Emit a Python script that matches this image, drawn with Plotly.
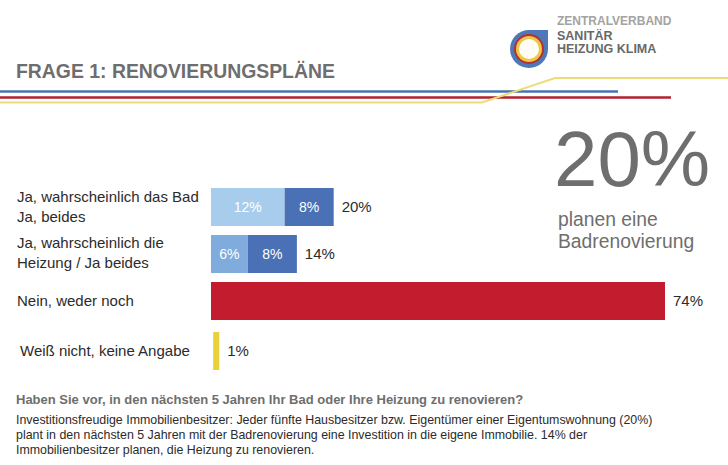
import plotly.graph_objects as go

# Chart data
categories = ['Ja, wahrscheinlich das Bad<br>Ja, beides',
              'Ja, wahrscheinlich die<br>Heizung / Ja beides',
              'Nein, weder noch',
              'Weiß nicht, keine Angabe']
first_part = [12, 6, 74, 1]
second_part = [8, 8, 0, 0]
first_labels = ['12%', '6%', '', '']
second_labels = ['8%', '8%', '', '']
totals = [20, 14, 74, 1]

first_colors = ['#a8cdec', '#7fabdd', '#c41c2f', '#e8d23c']
second_color = '#4a71b5'

# Layout helpers: the axes cover the whole page, x in percent, y in pixels
W, H = 728, 465
X0 = 211
PX_PER_PCT = 6.135
row_y = [207, 254, 301, 351]
label_y = [206.5, 252.5, 300.5, 350.5]
label_x = [15, 15, 15, 18]
bar_start = [0, 0, 0, 0.35]
GREY = '#6e6e6e'
TEXT = '#2b2b2b'


def px(x):
    return x / W


def py(y):
    return 1 - y / H


fig = go.Figure()
fig.add_trace(go.Bar(x=first_part, y=row_y, orientation='h', width=38, base=bar_start,
                     marker=dict(color=first_colors, line=dict(width=0)),
                     text=first_labels, textposition='inside', insidetextanchor='middle',
                     textangle=0, textfont=dict(color='white', size=14), showlegend=False))
fig.add_trace(go.Bar(x=second_part, y=row_y, orientation='h', width=38, base=first_part,
                     marker=dict(color=second_color, line=dict(width=0)),
                     text=second_labels, textposition='inside', insidetextanchor='middle',
                     textangle=0, textfont=dict(color='white', size=14), showlegend=False))
fig.add_trace(go.Scatter(x=[t + s + 1.3 for t, s in zip(totals, bar_start)],
                         y=[y + 1.5 for y in row_y], mode='text',
                         text=[f'{t}%' for t in totals], textposition='middle right',
                         textfont=dict(color=TEXT, size=15), showlegend=False))

# Category labels
for cat, x, y in zip(categories, label_x, label_y):
    fig.add_annotation(text=cat, xref='paper', yref='paper', x=px(x), y=py(y), xanchor='left',
                       yanchor='middle', align='left', showarrow=False,
                       font=dict(size=15, color=TEXT))


def add_text(text, x, y, size, color, bold=False):
    if bold:
        text = f'<b>{text}</b>'
    fig.add_annotation(text=text, xref='paper', yref='paper', x=px(x), y=py(y), xanchor='left',
                       yanchor='middle', align='left', showarrow=False,
                       font=dict(size=size, color=color))


# Header
add_text('FRAGE 1: RENOVIERUNGSPLÄNE', 14, 71, 19.4, GREY, True)
add_text('ZENTRALVERBAND', 555, 21, 12, '#a3a3a3', True)
add_text('SANITÄR', 555, 35, 12.5, '#686868', True)
add_text('HEIZUNG KLIMA', 555, 49, 12.5, '#686868', True)

# Key figure
add_text('20%', 552, 159, 78, GREY)
add_text('planen eine', 556, 219, 19.3, GREY)
add_text('Badrenovierung', 556, 241, 19.3, GREY)

# Footer text
add_text('Haben Sie vor, in den nächsten 5 Jahren Ihr Bad oder Ihre Heizung zu renovieren?',
         14, 399, 13, GREY, True)
add_text('Investitionsfreudige Immobilienbesitzer: Jeder fünfte Hausbesitzer bzw. Eigentümer einer Eigentumswohnung (20%)',
         14, 420, 12.4, TEXT)
add_text('plant in den nächsten 5 Jahren mit der Badrenovierung eine Investition in die eigene Immobilie. 14% der',
         14, 435, 12.4, TEXT)
add_text('Immobilienbesitzer planen, die Heizung zu renovieren.', 14, 450, 12.4, TEXT)


def add_line(points, color, width):
    path = 'M ' + ' L '.join(f'{px(x):.4f},{py(y):.4f}' for x, y in points)
    fig.add_shape(type='path', path=path, xref='paper', yref='paper',
                  line=dict(color=color, width=width))


# Decorative lines under the title
add_line([(0, 91.5), (618, 91.5)], '#4a71b5', 2.5)
add_line([(0, 97.5), (671, 97.5)], '#b0202f', 2.5)
add_line([(0, 102.5), (482, 102.5), (555, 78), (728, 78)], '#ecdc78', 2)

# Logo
cx, cy = 529, 49
fig.add_shape(type='circle', xref='paper', yref='paper', x0=px(cx - 19), x1=px(cx + 19),
              y0=py(cy + 19), y1=py(cy - 19), fillcolor='#4f78b8', line_width=0)
fig.add_shape(type='rect', xref='paper', yref='paper', x0=px(cx), x1=px(548),
              y0=py(cy), y1=py(30), fillcolor='#4f78b8', line_width=0)
fig.add_shape(type='circle', xref='paper', yref='paper', x0=px(cx - 15), x1=px(cx + 15),
              y0=py(cy + 15), y1=py(cy - 15), fillcolor='#b5302f', line_width=0)
fig.add_shape(type='circle', xref='paper', yref='paper', x0=px(cx - 13), x1=px(cx + 13),
              y0=py(cy + 13), y1=py(cy - 13), fillcolor='#edc748', line_width=0)
fig.add_shape(type='circle', xref='paper', yref='paper', x0=px(cx - 10), x1=px(cx + 10),
              y0=py(cy + 10), y1=py(cy - 10), fillcolor='#fffdf5', line_width=0)

fig.update_layout(width=W, height=H, margin=dict(l=0, r=0, t=0, b=0), barmode='overlay',
                  paper_bgcolor='white', plot_bgcolor='white',
                  font=dict(family='Liberation Sans, Arial, sans-serif'),
                  xaxis=dict(range=[-X0 / PX_PER_PCT, (W - X0) / PX_PER_PCT], visible=False),
                  yaxis=dict(range=[H, 0], visible=False))

# The page's default body margin would push the figure off its place
fig.write_html('out.html', config={'displayModeBar': False},
               post_script="document.body.style.margin='0';")
